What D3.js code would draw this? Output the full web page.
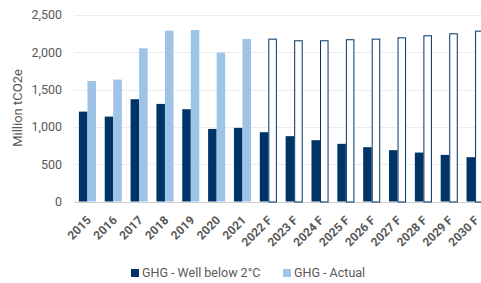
<!DOCTYPE html>
<html lang="en">
<head>
<meta charset="UTF-8">
<script src="https://d3js.org/d3.v7.min.js"></script>
<style>
  body { margin: 0; background: #fff; }
  svg { font-family: Roboto, "Liberation Sans", sans-serif; }
</style>
</head>
<body>
<div id="chart"></div>
<script>
const years = ["2015","2016","2017","2018","2019","2020","2021","2022 F","2023 F","2024 F","2025 F","2026 F","2027 F","2028 F","2029 F","2030 F"];
const wellBelow = [1205,1138,1371,1308,1237,973,987,929,876,822,773,728,688,656,625,594];
const actual = [1616,1634,2054,2290,2299,1995,2179,2183,2161,2161,2175,2183,2201,2228,2255,2290];
const yTicks = [0,500,1000,1500,2000,2500];

const W = 481, H = 283;
const dark = "#003366", light = "#9DC3E6";

const svg = d3.select("#chart").append("svg").attr("width", W).attr("height", H);

const x = d3.scaleBand().domain(years).range([74.5, 488]).paddingInner(0.34).paddingOuter(0.17);
const y = d3.scaleLinear().domain([0, 2500]).range([201.5, 15]);
const half = x.bandwidth() / 2;

// gridlines
svg.append("g").selectAll("line").data(yTicks).join("line")
  .attr("x1", 74).attr("x2", W)
  .attr("y1", d => Math.round(y(d)) + 0.5).attr("y2", d => Math.round(y(d)) + 0.5)
  .attr("stroke", d => d === 0 ? "#d0d0d0" : "#ececec").attr("stroke-width", 1);

// y tick labels
svg.append("g").selectAll("text").data(yTicks).join("text")
  .attr("x", 62).attr("y", d => y(d)).attr("dy", "0.35em")
  .attr("text-anchor", "end").attr("font-size", 12.5).attr("fill", "#595959")
  .text(d3.format(","));

svg.append("text")
  .attr("transform", "translate(17,108) rotate(-90)")
  .attr("text-anchor", "middle").attr("dy", "0.35em").attr("font-size", 13).attr("fill", "#595959")
  .text("Million tCO2e");

// dark bars
svg.append("g").selectAll("rect").data(years).join("rect")
  .attr("x", d => x(d)).attr("width", half)
  .attr("y", (d, i) => y(wellBelow[i])).attr("height", (d, i) => y(0) - y(wellBelow[i]))
  .attr("fill", dark);

// actual / forecast bars
svg.append("g").selectAll("rect").data(years).join("rect")
  .attr("x", (d, i) => x(d) + half + (i > 6 ? 0.5 : 0))
  .attr("width", (d, i) => half - (i > 6 ? 1 : 0))
  .attr("y", (d, i) => y(actual[i]) + (i > 6 ? 0.5 : 0))
  .attr("height", (d, i) => y(0) - y(actual[i]))
  .attr("fill", (d, i) => i > 6 ? "#fff" : light)
  .attr("stroke", (d, i) => i > 6 ? dark : "none")
  .attr("stroke-width", 1);

// x labels
svg.append("g").selectAll("text").data(years).join("text")
  .attr("transform", d => `translate(${x(d) + x.bandwidth() / 2 + 4.5},${221}) rotate(-45)`)
  .attr("text-anchor", "end").attr("font-size", 12).attr("font-weight", "bold").attr("fill", "#595959")
  .text(d => d);

// legend
const legend = [{label: "GHG - Well below 2°C", color: dark, x: 131}, {label: "GHG - Actual", color: light, x: 283}];
const lg = svg.append("g").selectAll("g").data(legend).join("g")
  .attr("transform", d => `translate(${d.x},269)`);
lg.append("rect").attr("width", 8).attr("height", 8).attr("fill", d => d.color);
lg.append("text").attr("x", 11).attr("y", 4).attr("dy", "0.35em")
  .attr("font-size", 12.5).attr("fill", "#595959").text(d => d.label);
</script>
</body>
</html>
